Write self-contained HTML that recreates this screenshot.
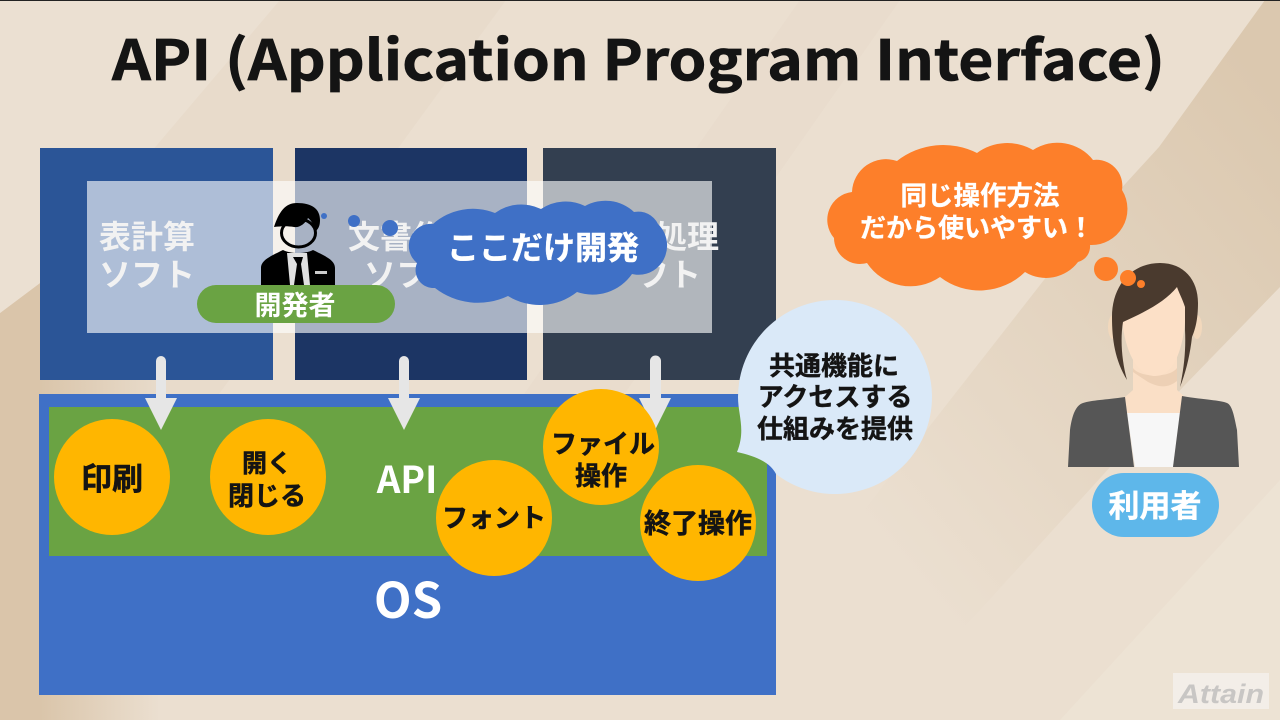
<!DOCTYPE html>
<html lang="ja"><head><meta charset="utf-8"><style>
html,body{margin:0;padding:0;width:1280px;height:720px;overflow:hidden;background:#eadfd0}
svg{display:block}
text{font-family:"Liberation Sans","Noto Sans CJK JP",sans-serif;font-weight:700;text-anchor:middle}
.n{font-family:"Noto Sans CJK JP","Liberation Sans",sans-serif}
</style></head><body>
<svg width="1280" height="720" viewBox="0 0 1280 720" xmlns="http://www.w3.org/2000/svg">
<defs>
<linearGradient id="lf" gradientUnits="userSpaceOnUse" x1="40" y1="0" x2="160" y2="0">
<stop offset="0" stop-color="#dac5aa"/><stop offset="1" stop-color="#dac5aa" stop-opacity="0"/>
</linearGradient>
<linearGradient id="rt" gradientUnits="userSpaceOnUse" x1="1280" y1="100" x2="830" y2="480">
<stop offset="0" stop-color="#dbc8af"/><stop offset="1" stop-color="#dbc8af" stop-opacity="0"/>
</linearGradient>
</defs>
<rect width="1280" height="720" fill="#ebdfd0"/>
<polygon points="278,0 506,0 200,420 40,420 40,262" fill="#e5d8c6" opacity=".5"/>
<polygon points="800,0 900,0 620,400 520,400" fill="#e7dac9" opacity=".5"/>
<polygon points="1265,0 1280,0 1280,287 1183,387 880,720 700,720 1083,230 1159,147" fill="url(#rt)"/>
<polygon points="1280,480 1280,720 1060,720" fill="#eee3d5" opacity=".8"/>
<polygon points="0,313 40,283 300,283 300,720 0,720" fill="url(#lf)"/>
<polygon points="0,0 280,0 40,283 0,313" fill="#ebe0d2"/>
<rect y="0" width="1280" height="1" fill="#222"/>

<text class="n" x="638.5" y="80" font-size="55" fill="#141414" stroke="#141414" stroke-width=".7" textLength="1053" lengthAdjust="spacingAndGlyphs">API (Application Program Interface)</text>

<rect x="40" y="148" width="233" height="232" fill="#2b5597"/>
<rect x="295" y="148" width="232" height="232" fill="#1c3564"/>
<rect x="543" y="148" width="233" height="232" fill="#333f50"/>
<rect x="87" y="181" width="625" height="152" fill="#fff" fill-opacity=".62"/>

<g fill="#f2f2f2" font-size="32">
<text x="147" y="248">表計算</text><text x="147" y="286">ソフト</text>
<text x="412" y="248">文書作成</text><text x="412" y="286">ソフト</text>
<text x="655" y="248">画像処理</text><text x="653" y="286">ソフト</text>
</g>

<!-- OS / API -->
<rect x="39" y="394" width="737" height="301" fill="#3f70c6"/>
<rect x="49" y="407" width="718" height="149" fill="#6aa343"/>
<g fill="#e6e6e6">
<path d="M156,380V361a5,5 0 0 1 10,0V398h11L161,430L145,398h11Z"/>
<path d="M399,380V361a5,5 0 0 1 10,0V398h11L404,430L388,398h11Z"/>
<path d="M650,380V361a5,5 0 0 1 11,0V398h10L655,430L639,398h11Z"/>
</g>
<text class="n" x="407" y="493" font-size="37" fill="#fff">API</text>
<text class="n" x="408" y="618" font-size="49" fill="#fff">OS</text>

<g fill="#ffb600">
<circle cx="112" cy="477" r="58"/><circle cx="268" cy="477" r="58"/>
<circle cx="494" cy="518" r="58"/><circle cx="601" cy="447" r="58"/><circle cx="698" cy="523" r="58"/>
</g>
<g fill="#141414" font-size="26" stroke="#141414" stroke-width=".5">
<text x="112" y="490" font-size="31">印刷</text>
<text x="267" y="472" font-size="25">開く</text><text x="267" y="505" font-size="26">閉じる</text>
<text x="494" y="527">フォント</text>
<text x="603" y="453">ファイル</text><text x="601" y="485">操作</text>
<text x="698" y="533" font-size="27">終了操作</text>
</g>

<!-- Light callout -->
<path d="M835,300a97,97 0 1 1 -59,174C770,462 755,456 737,452C746,430 738,415 738,397A97,97 0 0 1 835,300Z" fill="#dae9f8"/>
<g fill="#141414" font-size="26" stroke="#141414" stroke-width=".4">
<text x="834" y="375">共通機能に</text><text x="835" y="406">アクセスする</text><text x="835" y="438">仕組みを提供</text>
</g>

<!-- Developer -->
<path d="M261,285V268c0,-8 10,-12 22,-18c8,4 22,4 30,0c12,6 22,10 22,18V285Z" fill="#000"/>
<ellipse cx="298.5" cy="233" rx="17" ry="14" fill="none" stroke="#000" stroke-width="3"/>
<path d="M274,227C279,212 285,203 297,203C312,203 320,209 320,220C320,225 319,228 316,231C314,226 312,221 308,218C305,224 299,228 294,227C288,226 282,226 274,227Z" fill="#000"/>
<path d="M287,253H307L310,285H290Z" fill="#e0e0e0"/>
<path d="M293,257h10l-2,7l3,21h-10l3,-21Z" fill="#000"/>
<rect x="315" y="271" width="12" height="3" fill="#ccc"/>
<rect x="197" y="285" width="198" height="38" rx="19" fill="#6aa343"/>
<text x="295" y="315" font-size="27" fill="#fff">開発者</text>

<!-- Blue cloud -->
<g fill="#3f70c6">
<circle cx="324" cy="216" r="3"/><circle cx="354" cy="221" r="6"/><circle cx="390" cy="228" r="8"/>
<path d="M417,263A22,22 0 0 1 433,224A60,60 0 0 1 495,213A45,45 0 0 1 541,209A44,44 0 0 1 585,206A42,42 0 0 1 634,212A22,22 0 0 1 658,224A30,30 0 0 1 659,266A28,28 0 0 1 632,274A48,48 0 0 1 577,292A60,60 0 0 1 508,296A70,70 0 0 1 435,288A18,18 0 0 1 417,263Z"/>
</g>
<text x="543" y="259" font-size="32" fill="#fff" stroke="#fff" stroke-width=".4">ここだけ開発</text>

<!-- Orange cloud -->
<path d="M852,192A34,34 0 0 1 897,161A75,75 0 0 1 977,153A51,51 0 0 1 1033,150A45,45 0 0 1 1093,160A26,26 0 0 1 1122,190A36,36 0 0 1 1090,245A16,16 0 0 1 1078,262A40,40 0 0 1 1025,272A65,65 0 0 1 940,277A52,52 0 0 1 867,263A26,26 0 0 1 834,238A28,28 0 0 1 852,192Z" fill="#fd7f2a"/>
<g fill="#fff" stroke="#fff" stroke-width=".3">
<text x="980" y="205" font-size="26.5">同じ操作方法</text><text x="977" y="237" font-size="26">だから使いやすい！</text>
</g>

<!-- User -->
<ellipse cx="1113" cy="327" rx="5" ry="12" fill="#f2d8bc"/>
<ellipse cx="1197" cy="327" rx="5" ry="12" fill="#f2d8bc"/>
<path d="M1133,350H1177V390L1185,397L1180,413H1127L1125,397L1133,390Z" fill="#fadfc6"/>
<path d="M1133,368C1140,378 1170,378 1177,368V381C1168,388 1160,388 1148,382L1133,372Z" fill="#edd0b5"/>
<path d="M1127,413H1180L1173,467H1135Z" fill="#f7f7f7"/>
<path d="M1125,397L1134,467H1068L1070,430C1072,415 1076,405 1083,403C1092,400 1105,400 1125,397ZM1182,396L1173,467H1239L1237,430C1234,415 1232,405 1227,403C1220,400 1205,400 1182,396Z" fill="#565656"/>
<path d="M1121,300C1121,345 1135,376 1155,376C1175,376 1186,345 1186,300C1186,275 1175,265 1155,265C1135,265 1121,275 1121,300Z" fill="#fce0c7"/>
<path d="M1127,380C1115,360 1112,340 1112,317C1112,285 1132,263 1160,263C1184,263 1198,280 1198,303C1198,320 1195,330 1192,337C1190,355 1186,372 1180,387C1184,368 1186,350 1185,330V307C1182,298 1179,293 1177,287C1165,302 1145,312 1123,322C1120,340 1122,362 1127,380Z" fill="#4a3a2e"/>
<circle cx="1106" cy="269" r="12" fill="#fd7f2a"/><circle cx="1128" cy="278" r="8" fill="#fd7f2a"/><circle cx="1141" cy="284" r="4" fill="#fd7f2a"/>
<rect x="1092" y="473" width="127" height="64" rx="32" fill="#5eb7ea"/>
<text x="1155" y="517" font-size="31" fill="#fff" stroke="#fff" stroke-width=".4">利用者</text>

<!-- Watermark -->
<rect x="1173" y="673" width="96" height="36" fill="#f3eee8"/>
<text x="1221" y="703" font-size="27" fill="#c8c6c4" style="font-style:italic" textLength="86" lengthAdjust="spacingAndGlyphs">Attain</text>
</svg>
</body></html>
